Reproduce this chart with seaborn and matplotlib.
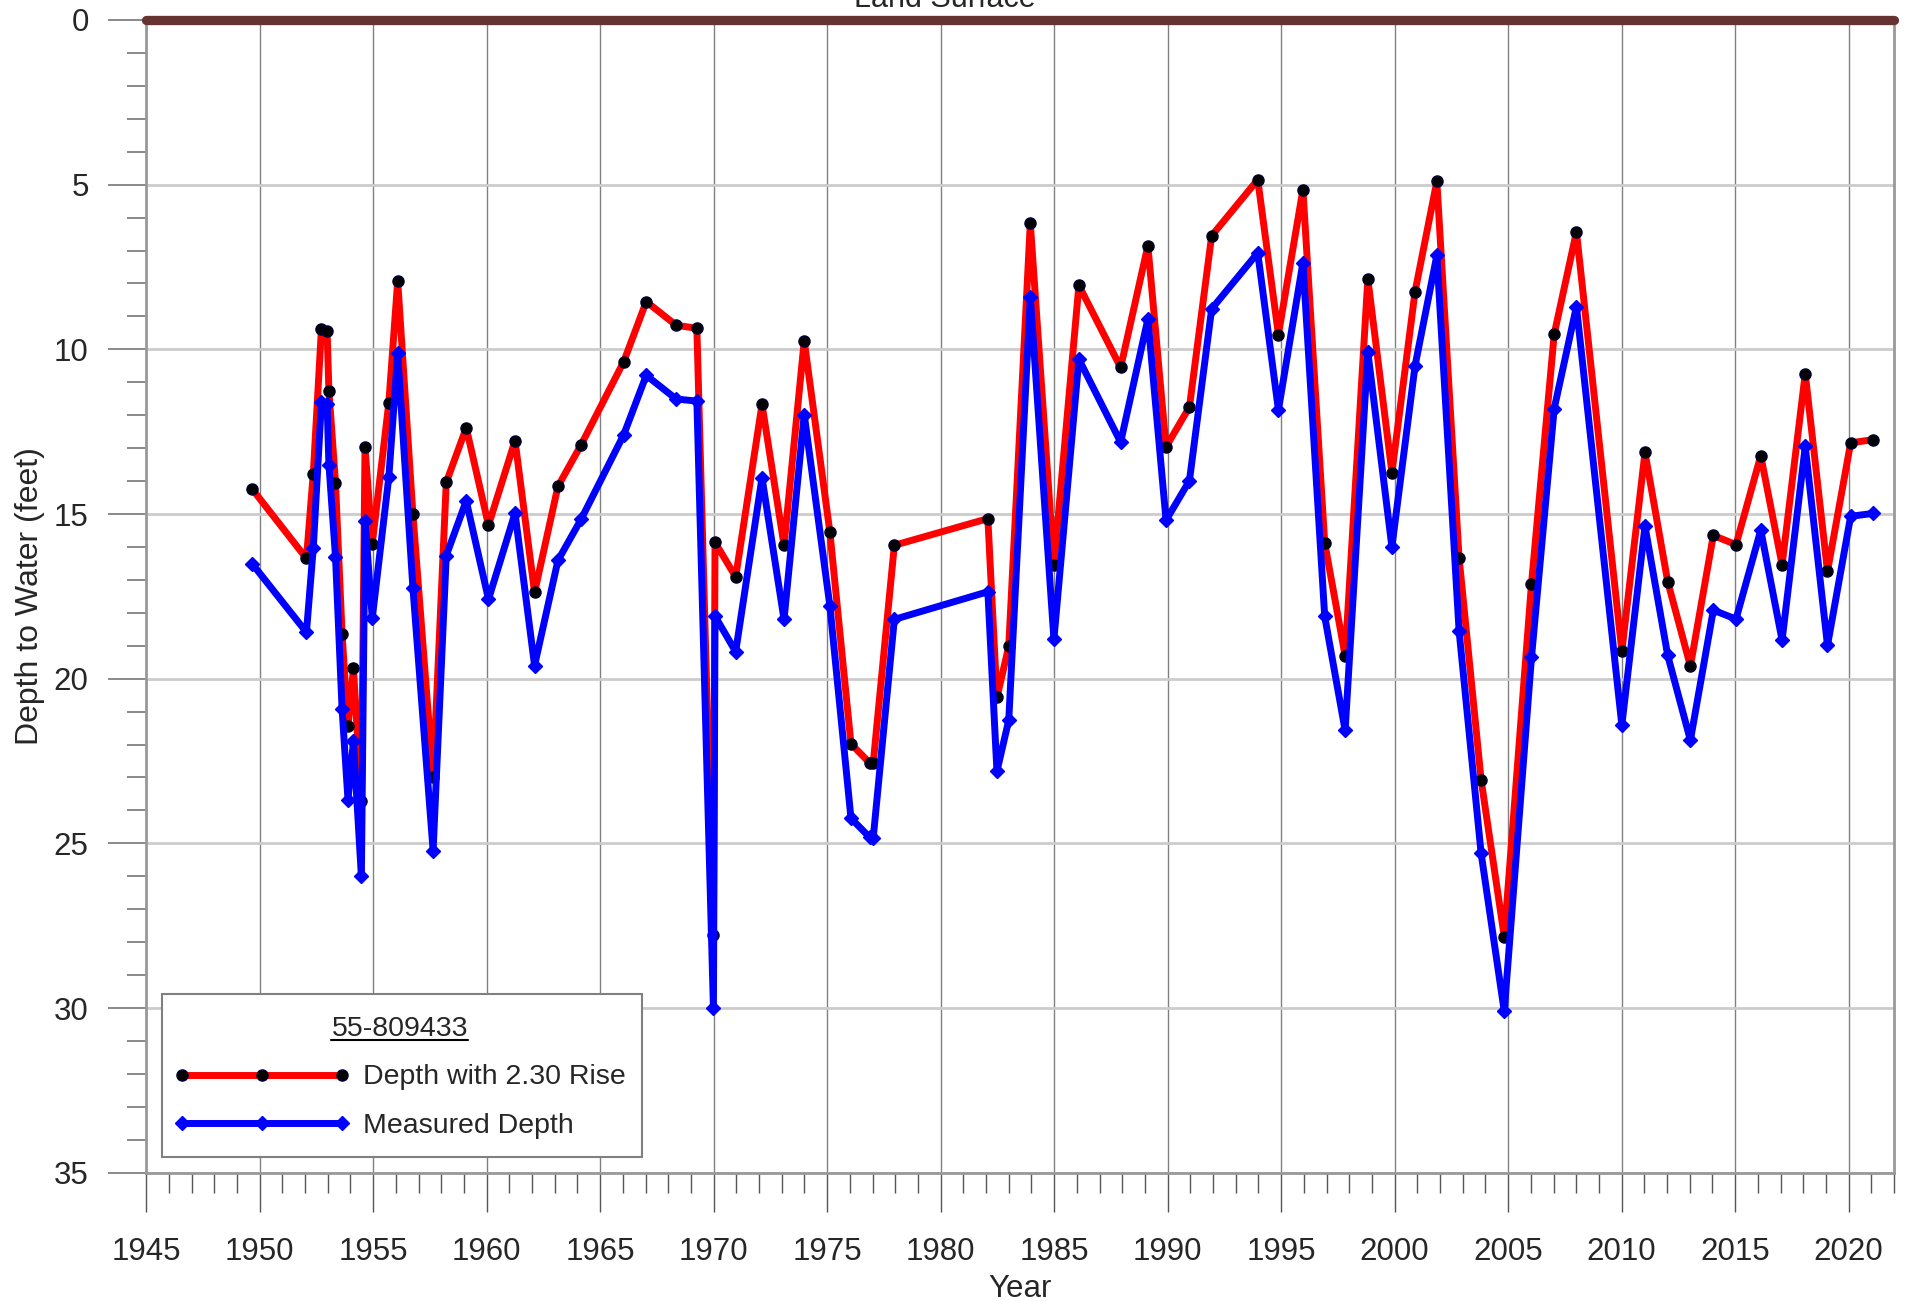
import numpy as np
import pandas as pd
import matplotlib
matplotlib.use("Agg")
import matplotlib.pyplot as plt
from matplotlib.lines import Line2D
from matplotlib.patches import Rectangle
from matplotlib.ticker import MultipleLocator
import seaborn as sns

# Measurement dates (decimal years)
years = [
    1949.68, 1952.06, 1952.36, 1952.72, 1952.97, 1953.05, 1953.34, 1953.63,
    1953.89, 1954.13, 1954.48, 1954.64, 1954.96, 1955.69, 1956.08, 1956.75,
    1957.64, 1958.22, 1959.10, 1960.08, 1961.25, 1962.11, 1963.14, 1964.16,
    1966.04, 1967.03, 1968.35, 1969.26, 1969.99, 1970.06, 1970.97, 1972.13,
    1973.10, 1973.99, 1975.12, 1976.05, 1976.88, 1977.03, 1977.96, 1982.08,
    1982.48, 1983.00, 1983.95, 1984.99, 1986.09, 1987.93, 1989.13, 1989.93,
    1990.96, 1991.94, 1993.97, 1994.88, 1995.96, 1996.92, 1997.82, 1998.82,
    1999.88, 2000.90, 2001.86, 2002.84, 2003.81, 2004.83, 2006.03, 2007.03,
    2008.01, 2010.01, 2011.03, 2012.03, 2013.03, 2014.04, 2015.04, 2016.13,
    2017.07, 2018.09, 2019.07, 2020.09, 2021.09,
]

# Depth to water with the 2.30 ft rise applied (feet below land surface)
depth_with_rise = [
    14.25, 16.35, 13.78, 9.39, 9.44, 11.26, 14.05, 18.65,
    21.45, 19.69, 23.72, 12.98, 15.90, 11.62, 7.92, 15.00,
    22.99, 14.04, 12.38, 15.34, 12.77, 17.38, 14.16, 12.90,
    10.37, 8.55, 9.27, 9.36, 27.77, 15.86, 16.91, 11.67,
    15.95, 9.74, 15.55, 21.98, 22.56, 22.56, 15.95, 15.14,
    20.57, 19.02, 6.17, 16.54, 8.06, 10.55, 6.85, 12.96,
    11.75, 6.55, 4.85, 9.55, 5.15, 15.87, 19.31, 7.86,
    13.74, 8.25, 4.90, 16.33, 23.07, 27.83, 17.12, 9.54,
    6.43, 19.16, 13.13, 17.05, 19.62, 15.65, 15.93, 13.23,
    16.54, 10.74, 16.74, 12.84, 12.74,
]

# Measured depth to water (feet below land surface)
measured_depth = [
    16.52, 18.59, 16.04, 11.60, 11.67, 13.50, 16.30, 20.92,
    23.68, 21.90, 26.00, 15.20, 18.16, 13.87, 10.12, 17.24,
    25.22, 16.26, 14.60, 17.59, 14.97, 19.60, 16.41, 15.16,
    12.59, 10.79, 11.51, 11.57, 30.00, 18.10, 19.18, 13.90,
    18.20, 11.98, 17.79, 24.24, 24.82, 24.83, 18.20, 17.36,
    22.81, 21.26, 8.40, 18.80, 10.30, 12.82, 9.08, 15.19,
    13.99, 8.77, 7.07, 11.84, 7.37, 18.11, 21.57, 10.08,
    16.00, 10.50, 7.15, 18.55, 25.30, 30.10, 19.35, 11.80,
    8.70, 21.41, 15.37, 19.29, 21.87, 17.92, 18.19, 15.49,
    18.83, 12.95, 18.99, 15.07, 14.98,
]

well_id = "55-809433"
rise_label = "Depth with 2.30 Rise"
measured_label = "Measured Depth"
x_ticks = list(range(1945, 2021, 5))
y_ticks = list(range(0, 36, 5))

df = pd.DataFrame({"year": years, "rise": depth_with_rise, "measured": measured_depth})

sns.set_theme(style="white")
plt.rcParams["font.family"] = ["Liberation Sans", "DejaVu Sans"]

fig = plt.figure(figsize=(19.10, 13.01), dpi=100)
ax = fig.add_axes([0.07654, 0.09862, 0.91508, 0.88601])

sns.lineplot(data=df, x="year", y="rise", ax=ax, color="#ff0000", linewidth=5.0,
             marker="o", markersize=8, markerfacecolor="black",
             markeredgecolor="#000033", markeredgewidth=1.0,
             estimator=None, sort=False, label=rise_label, zorder=3)
sns.lineplot(data=df, x="year", y="measured", ax=ax, color="#0000ff", linewidth=5.0,
             marker="D", markersize=7, markerfacecolor="#0000ff",
             markeredgecolor="#0000ff", markeredgewidth=1.0,
             estimator=None, sort=False, label=measured_label, zorder=4)

# Land surface reference line
ax.axhline(0, color="#663333", lw=6.7, solid_capstyle="round", clip_on=False, zorder=6)
fig.text(0.4948, 1 - 7 / 1301, "Land Surface", ha="center", va="baseline", fontsize=22)

ax.set_xlim(1945, 2022)
ax.set_ylim(35, 0)
ax.set_xticks(x_ticks)
ax.set_yticks(y_ticks)
ax.xaxis.set_minor_locator(MultipleLocator(1))
ax.yaxis.set_minor_locator(MultipleLocator(1))

ax.grid(axis="x", which="major", color="#808080", lw=1.0, zorder=0)
ax.grid(axis="y", which="major", color="#cccccc", lw=2.0, zorder=0)

for side in ["left", "bottom", "right"]:
    ax.spines[side].set_color("#999999")
    ax.spines[side].set_linewidth(2)
ax.spines["top"].set_visible(False)

ax.tick_params(axis="y", which="major", direction="out", left=True, length=27.4,
               width=1.3, color="#808080", pad=14, labelsize=22.5)
ax.tick_params(axis="y", which="minor", direction="out", left=True, length=13.7,
               width=1.3, color="#808080")
ax.tick_params(axis="x", which="major", direction="out", bottom=True, length=28,
               width=1.0, color="#555555", pad=18, labelsize=22.5)
ax.tick_params(axis="x", which="minor", direction="out", bottom=True, length=14.4,
               width=1.0, color="#555555")

ax.set_xlabel("Year", fontsize=22.5, labelpad=5)
ax.set_ylabel("Depth to Water (feet)", fontsize=23, labelpad=6)

# Legend box drawn as its own frame, legend content placed inside it
box = Rectangle((0.00887, 0.01388), 0.2835 - 0.00887, 0.155 - 0.01388,
                transform=ax.transAxes, facecolor="white", edgecolor="#808080",
                lw=1.5, zorder=9, clip_on=False)
ax.add_patch(box)

handles, labels = ax.get_legend_handles_labels()
leg = ax.legend(handles, labels, title=well_id, loc="upper left",
                bbox_to_anchor=(0.01562, 0.1362), borderaxespad=0,
                fontsize=20.5, title_fontsize=20.5, numpoints=3,
                handlelength=6.22, handletextpad=0.44, labelspacing=0.8,
                borderpad=0, frameon=False)
leg.set_zorder(10)

# Underline the legend title
fig.canvas.draw()
renderer = fig.canvas.get_renderer()
bb = leg.get_title().get_window_extent(renderer)
W, H = fig.get_size_inches() * fig.dpi
y_ul = (bb.y0 + 2) / H
fig.add_artist(Line2D([bb.x0 / W, bb.x1 / W], [y_ul, y_ul], color="black", lw=1.5, zorder=11))

fig.savefig("out.png", dpi=100)
